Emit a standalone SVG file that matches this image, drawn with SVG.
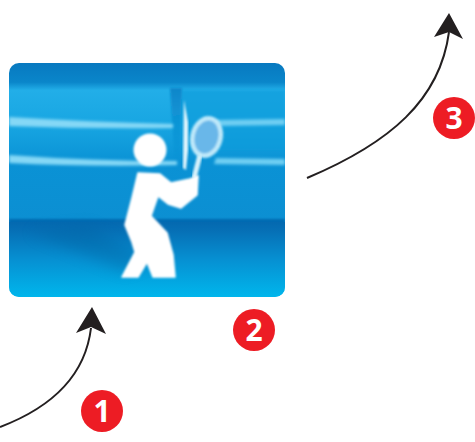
<svg xmlns="http://www.w3.org/2000/svg" width="475" height="442" viewBox="0 0 475 442">
<style>
.badge{fill:#ed1c24}
.num{fill:#fff;font:700 30px "Open Sans","Noto Sans",sans-serif;text-anchor:middle}
.conn{fill:none;stroke:#231f20;stroke-width:2}
.head{fill:#231f20}
</style>
<defs>
<clipPath id="c"><rect x="9" y="63" width="276" height="234" rx="10"/></clipPath>
<linearGradient id="wall" x1="0" y1="0" x2="0" y2="1"><stop offset="0" stop-color="#0879c0"/><stop offset=".12" stop-color="#0a86ca"/><stop offset=".17" stop-color="#22aee8"/><stop offset=".38" stop-color="#18a6e2"/><stop offset=".62" stop-color="#0a92d5"/><stop offset="1" stop-color="#0c8fd2"/></linearGradient>
<linearGradient id="floor" x1="0" y1="0" x2="0" y2="1"><stop offset="0" stop-color="#0469b0"/><stop offset=".12" stop-color="#0670b6"/><stop offset=".5" stop-color="#0690d2"/><stop offset="1" stop-color="#00b6ec"/></linearGradient>
<linearGradient id="post" x1="0" y1="0" x2="0" y2="1"><stop offset="0" stop-color="#0a86ca"/><stop offset="1" stop-color="#0a8ccf" stop-opacity="0"/></linearGradient>
<filter id="b1" x="-20%" y="-20%" width="140%" height="140%"><feGaussianBlur stdDeviation="1.3"/></filter>
<filter id="b2" x="-20%" y="-200%" width="140%" height="500%"><feGaussianBlur stdDeviation="1.6"/></filter>
<filter id="b3" x="-30%" y="-30%" width="160%" height="160%"><feGaussianBlur stdDeviation="7"/></filter>
<filter id="b4" x="-30%" y="-30%" width="160%" height="160%"><feGaussianBlur stdDeviation="2"/></filter>
</defs>
<g id="picture" clip-path="url(#c)">
<rect x="9" y="63" width="276" height="160" fill="url(#wall)"/>
<rect x="9" y="219" width="276" height="78" fill="url(#floor)" filter="url(#b1)"/>
<rect x="9" y="222" width="276" height="75" fill="url(#floor)"/>
<path d="M182 90H285V150H182Z" fill="#0a9cdb" opacity=".6" filter="url(#b1)"/>
<path d="M170 88H182L180 170H175Z" fill="url(#post)" filter="url(#b1)"/>
<path d="M30 232L90 226L150 262L125 272Z" fill="#05619f" opacity=".35" filter="url(#b3)"/>
<path d="M9 117Q90 122 173 124V128Q90 129 9 126Z" fill="#85d8f6" filter="url(#b2)"/>
<path d="M9 155Q90 161 177 161V165Q90 167 9 163Z" fill="#85d8f6" filter="url(#b2)"/>
<path d="M216 120L285 119V125L216 126Z" fill="#6fcff3" filter="url(#b2)"/>
<path d="M216 158L285 159V165L214 164Z" fill="#6fcff3" filter="url(#b2)"/>
</g>
<g id="player">
<path d="M184 100L188 122L188 150L186 170L183 168Z" fill="#e2f6fd" filter="url(#b1)"/>
<ellipse cx="206.500" cy="137" rx="14" ry="19" transform="rotate(14 206.500 137)" fill="#69b7e9" stroke="#bfe9fa" stroke-width="4.500" filter="url(#b1)"/>
<path d="M200 155L194 178" stroke="#d5f1fb" stroke-width="5" fill="none" filter="url(#b1)"/>
<circle cx="150" cy="150" r="16.500" fill="#fff" filter="url(#b1)"/>
<path d="M138 173L160 174L171 183L190 179L198 176L197 195L181 208L168 204L158 196L151 216L167 233L173 255L175 277L153 277L147 262L138 277L122 277L135 252L132 242L125 225L132 198Z" fill="#fff" stroke="#fff" stroke-width="1.500" stroke-linejoin="round" filter="url(#b1)"/>
</g>
<g id="connectors">
<path class="conn" d="M0 427C50 408 85 378 91 328"/>
<path class="head" d="M92 307L106 334L91 327L76 333Z"/>
<path class="conn" d="M307 178C390 143 440 100 449 32"/>
<path class="head" d="M449 13L463 39L449 32L434 37Z"/>
</g>
<g id="badge-1"><circle class="badge" cx="102" cy="411" r="21"/><text class="num" x="102" y="422">1</text></g>
<g id="badge-2"><circle class="badge" cx="254" cy="330" r="21"/><text class="num" x="254" y="341">2</text></g>
<g id="badge-3"><circle class="badge" cx="454" cy="118" r="21"/><text class="num" x="454" y="129">3</text></g>
</svg>
